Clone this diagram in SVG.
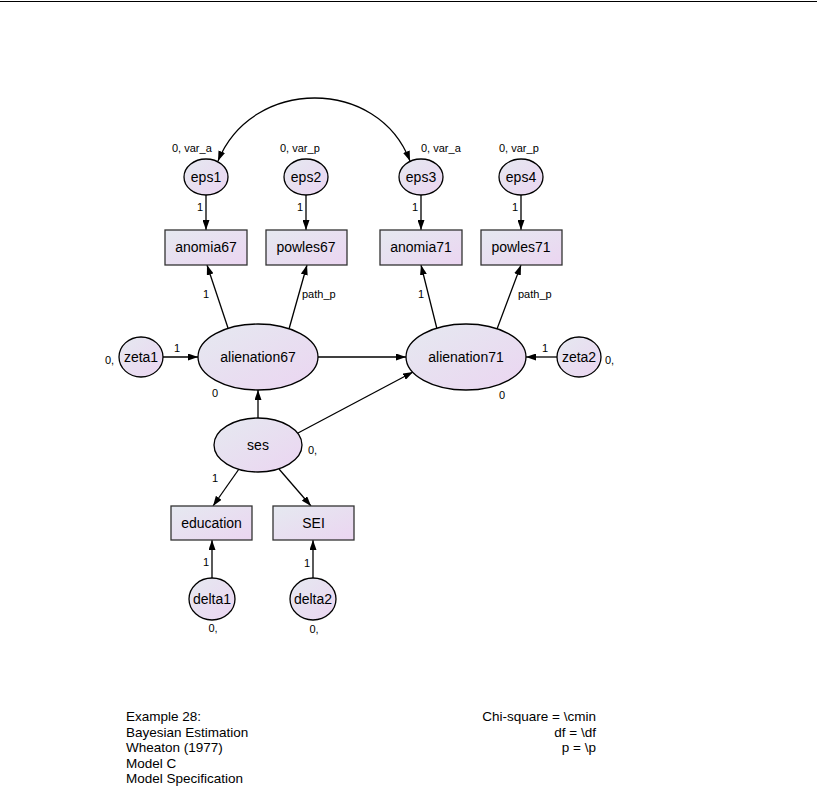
<svg xmlns="http://www.w3.org/2000/svg" width="817" height="786" viewBox="0 0 817 786">
<style>
text{font-family:"Liberation Sans",Arial,sans-serif;fill:#000}
.n{font-size:14px;text-anchor:middle}
.s{font-size:11px}
.m{text-anchor:middle}
.b{font-size:13.5px}
.e{text-anchor:end}
.sh{fill:url(#g);stroke:#000;stroke-width:1.3}
.r{fill:url(#g);stroke:#333;stroke-width:1.3}
.c line,.c path{stroke:#000;stroke-width:1.3;fill:none}
.a{marker-end:url(#ah)}
</style>
<defs>
<linearGradient id="g" x1="0" y1="0" x2="1" y2="1">
<stop offset="0" stop-color="#e5e9f0"/>
<stop offset="1" stop-color="#ebd5f1"/>
</linearGradient>
<marker id="ah" viewBox="0 0 10 7" refX="10" refY="3.5" markerWidth="10" markerHeight="7" markerUnits="userSpaceOnUse" orient="auto-start-reverse">
<path d="M0,0 L10,3.5 L0,7 z" fill="#000"/>
</marker>
</defs>
<rect width="817" height="786" fill="#fff"/>
<line x1="0" y1="1.5" x2="817" y2="1.5" stroke="#000" stroke-width="1.2"/>

<g class="c" id="connectors">
<path d="M218,161 C252,77 378,77 410,161" marker-start="url(#ah)" marker-end="url(#ah)"/>
<line class="a" x1="206" y1="195" x2="206" y2="230"/>
<line class="a" x1="306" y1="195" x2="306" y2="230"/>
<line class="a" x1="421" y1="195" x2="421" y2="230"/>
<line class="a" x1="521" y1="195" x2="521" y2="230"/>
<line class="a" x1="228" y1="328" x2="207" y2="265"/>
<line class="a" x1="289" y1="329" x2="307" y2="265"/>
<line class="a" x1="437" y1="329" x2="421" y2="265"/>
<line class="a" x1="497" y1="329" x2="521" y2="265"/>
<line class="a" x1="163" y1="357" x2="198" y2="357"/>
<line class="a" x1="557" y1="357" x2="526" y2="357"/>
<line class="a" x1="318" y1="357" x2="406" y2="357"/>
<line class="a" x1="258" y1="418" x2="258" y2="390"/>
<line class="a" x1="298" y1="433" x2="413" y2="372"/>
<line class="a" x1="239" y1="469" x2="213" y2="506"/>
<line class="a" x1="279" y1="469" x2="311" y2="506"/>
<line class="a" x1="212" y1="578" x2="212" y2="540"/>
<line class="a" x1="313" y1="578" x2="313" y2="540"/>
</g>

<g id="eps1"><ellipse class="sh" cx="206" cy="177" rx="22" ry="18"/><text class="n" x="206" y="182">eps1</text></g>
<g id="eps2"><ellipse class="sh" cx="306" cy="177" rx="22" ry="18"/><text class="n" x="306" y="182">eps2</text></g>
<g id="eps3"><ellipse class="sh" cx="421" cy="177" rx="22" ry="18"/><text class="n" x="421" y="182">eps3</text></g>
<g id="eps4"><ellipse class="sh" cx="521" cy="177" rx="22" ry="18"/><text class="n" x="521" y="182">eps4</text></g>

<g id="anomia67"><rect class="r" x="165" y="230" width="82" height="35"/><text class="n" x="206" y="252">anomia67</text></g>
<g id="powles67"><rect class="r" x="266" y="230" width="81" height="35"/><text class="n" x="306" y="252">powles67</text></g>
<g id="anomia71"><rect class="r" x="380" y="230" width="82" height="35"/><text class="n" x="421" y="252">anomia71</text></g>
<g id="powles71"><rect class="r" x="481" y="230" width="81" height="35"/><text class="n" x="521" y="252">powles71</text></g>

<g id="alienation67"><ellipse class="sh" cx="258" cy="357" rx="60" ry="33"/><text class="n" x="258" y="362">alienation67</text></g>
<g id="alienation71"><ellipse class="sh" cx="466" cy="357" rx="60" ry="33"/><text class="n" x="466" y="362">alienation71</text></g>
<g id="zeta1"><ellipse class="sh" cx="141" cy="357" rx="22" ry="20"/><text class="n" x="141" y="362">zeta1</text></g>
<g id="zeta2"><ellipse class="sh" cx="579" cy="357" rx="22" ry="20"/><text class="n" x="579" y="362">zeta2</text></g>
<g id="ses"><ellipse class="sh" cx="258" cy="445" rx="44" ry="27"/><text class="n" x="258" y="450">ses</text></g>
<g id="education"><rect class="r" x="171" y="506" width="81" height="34"/><text class="n" x="211.5" y="528">education</text></g>
<g id="SEI"><rect class="r" x="273" y="506" width="81" height="34"/><text class="n" x="313.5" y="528">SEI</text></g>
<g id="delta1"><ellipse class="sh" cx="212" cy="599" rx="23" ry="21"/><text class="n" x="212" y="604">delta1</text></g>
<g id="delta2"><ellipse class="sh" cx="313" cy="599" rx="23" ry="21"/><text class="n" x="313" y="604">delta2</text></g>

<g id="labels">
<text class="s" x="172" y="152">0, var_a</text>
<text class="s" x="280" y="152">0, var_p</text>
<text class="s" x="421" y="152">0, var_a</text>
<text class="s" x="499" y="152">0, var_p</text>
<text class="s m" x="200" y="211">1</text>
<text class="s m" x="300" y="211">1</text>
<text class="s m" x="415" y="211">1</text>
<text class="s m" x="515" y="211">1</text>
<text class="s m" x="206" y="298">1</text>
<text class="s" x="302" y="298">path_p</text>
<text class="s m" x="421" y="298">1</text>
<text class="s" x="518" y="298">path_p</text>
<text class="s m" x="177" y="352">1</text>
<text class="s m" x="545" y="352">1</text>
<text class="s" x="105" y="364">0,</text>
<text class="s" x="605" y="364">0,</text>
<text class="s m" x="215" y="397">0</text>
<text class="s m" x="502" y="399">0</text>
<text class="s" x="308" y="454">0,</text>
<text class="s m" x="215" y="482">1</text>
<text class="s m" x="206" y="566">1</text>
<text class="s m" x="307" y="567">1</text>
<text class="s m" x="213" y="632">0,</text>
<text class="s m" x="314" y="633">0,</text>
</g>

<g id="caption">
<text class="b" x="126" y="721">Example 28:</text>
<text class="b" x="126" y="736.5">Bayesian Estimation</text>
<text class="b" x="126" y="752">Wheaton (1977)</text>
<text class="b" x="126" y="767.5">Model C</text>
<text class="b" x="126" y="783">Model Specification</text>
<text class="b e" x="596" y="721">Chi-square = \cmin</text>
<text class="b e" x="596" y="736.5">df = \df</text>
<text class="b e" x="596" y="752">p = \p</text>
</g>
</svg>
